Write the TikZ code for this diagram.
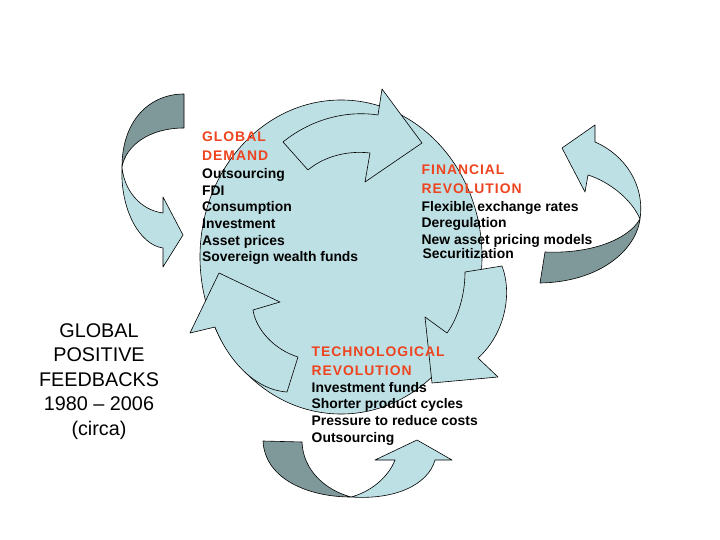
\documentclass[tikz,border=0pt]{standalone}
\usepackage{fontspec}
\usepackage{tikz}
\usetikzlibrary{positioning}
\setmainfont{Liberation Sans}
\newfontfamily\headfont[LetterSpace=7]{Liberation Sans}
\definecolor{ringfill}{HTML}{BDE0E4}
\definecolor{ribbondark}{HTML}{7F9899}
\definecolor{headred}{HTML}{EE4420}
\tikzset{
  ring/.style={draw=black, line width=0.6pt, fill=ringfill},
  bentarrow/.style={draw=black, line width=0.6pt, fill=ringfill, line join=round},
  ribbonback/.style={draw=black, line width=0.6pt, fill=ribbondark, line join=round},
  heading/.style={align=left, inner sep=0pt, anchor=north west, text=headred, font=\headfont\bfseries\fontsize{13.9}{19}\selectfont},
  itemlist/.style={align=left, inner sep=0pt, font=\bfseries\fontsize{13.9}{16.7}\selectfont},
  caption/.style={align=center, inner sep=0pt, anchor=north, font=\fontsize{19.8}{24.5}\selectfont}
}

\begin{document}
\begin{tikzpicture}[x=1pt, y=-1pt]
  \fill[white] (0,0) rectangle (720,540);
  \useasboundingbox (0,0) rectangle (720,540);

  \draw[ring] (341,257) ellipse [x radius=141pt, y radius=157pt];

  \draw[bentarrow] (283,142) .. controls (310,120) and (345,110) .. (378,115) -- (382,89) -- (422,143)
    -- (365,182) -- (370,153) .. controls (345,150) and (322,158) .. (308,170) -- cycle;
  \draw[bentarrow] (465,272) -- (502,266) .. controls (513,295) and (504,335) .. (478,358) -- (498,377)
    -- (432,383) -- (425,317) -- (447,333) .. controls (458,318) and (465,295) .. (465,272) -- cycle;
  \draw[bentarrow] (298,357) -- (287,392) .. controls (255,390) and (228,360) .. (215,327) -- (190,333)
    -- (219,273) -- (280,302) -- (253,310) .. controls (256,330) and (275,350) .. (298,357) -- cycle;

  \node[heading] (demandhead) at (202,131.7) {GLOBAL\\DEMAND};
  \node[itemlist, below right=7.4pt and 0pt of demandhead.south west] (demandlist)
    {Outsourcing\\FDI\\Consumption\\Investment\\Asset prices\\Sovereign wealth funds};

  \node[heading] (financehead) at (421.5,165) {FINANCIAL\\REVOLUTION};
  \node[itemlist, below right=6.6pt and 0pt of financehead.south west] (financelist)
    {Flexible exchange rates\\Deregulation\\New asset pricing models\\[-2.7pt]\hspace{1pt}Securitization};

  \node[heading] (techhead) at (311.5,346.7) {TECHNOLOGICAL\\REVOLUTION};
  \node[itemlist, below right=6pt and 0pt of techhead.south west] (techlist)
    {Investment funds\\Shorter product cycles\\Pressure to reduce costs\\Outsourcing};

  \node[caption] (feedbacks) at (99,323.4) {GLOBAL\\POSITIVE\\FEEDBACKS\\1980 -- 2006\\(circa)};

  % twisted ribbons outside the ring
  \draw[ribbonback] (184,94) .. controls (150,94) and (122,120) .. (122,167)
    .. controls (126,145) and (150,128) .. (184,128) -- cycle;
  \draw[bentarrow] (122,167) .. controls (120,210) and (140,245) .. (163,248) -- (163,267) -- (183,235)
    -- (163,197) -- (163,213) .. controls (140,210) and (124,190) .. (122,167) -- cycle;

  \draw[ribbonback] (545,252) .. controls (590,254) and (628,240) .. (640,219)
    .. controls (636,250) and (600,282) .. (540,283) -- cycle;
  \draw[bentarrow] (640,219) .. controls (645,185) and (625,155) .. (595,142) -- (595,125) -- (562,148)
    -- (585,192) -- (588,175) .. controls (610,182) and (632,200) .. (640,219) -- cycle;

  \draw[ribbonback] (263,441) .. controls (265,480) and (310,497) .. (351,497)
    .. controls (325,490) and (303,470) .. (302,442) -- cycle;
  \draw[bentarrow] (351,497) .. controls (370,492) and (388,478) .. (395,460) -- (375,460) -- (417,440)
    -- (452,460) -- (435,460) .. controls (428,485) and (395,500) .. (351,497) -- cycle;
\end{tikzpicture}
\end{document}
